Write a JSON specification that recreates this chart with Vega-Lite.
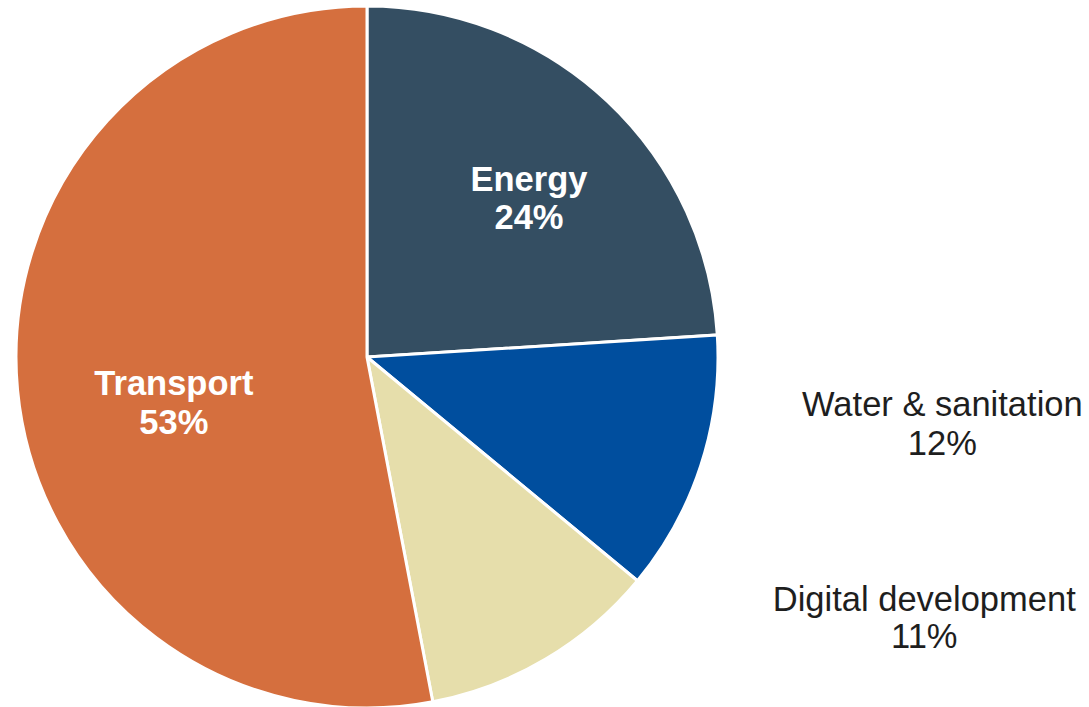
{
  "$schema": "https://vega.github.io/schema/vega-lite/v6.json",
  "width": 734,
  "height": 712,
  "padding": 0,
  "background": "white",
  "config": {"view": {"stroke": null}},
  "data": {
    "values": [
      {"category": "Energy", "share": 24, "rank": 1},
      {"category": "Water & sanitation", "share": 12, "rank": 2},
      {"category": "Digital development", "share": 11, "rank": 3},
      {"category": "Transport", "share": 53, "rank": 4}
    ]
  },
  "transform": [
    {"calculate": "datum.category + '\\n' + datum.share + '%'", "as": "label"}
  ],
  "encoding": {
    "theta": {"field": "share", "type": "quantitative", "stack": true},
    "order": {"field": "rank", "type": "quantitative"}
  },
  "layer": [
    {
      "mark": {"type": "arc", "outerRadius": 351, "stroke": "white", "strokeWidth": 3},
      "encoding": {
        "color": {
          "field": "category",
          "type": "nominal",
          "scale": {
            "domain": ["Energy", "Water & sanitation", "Digital development", "Transport"],
            "range": ["#344E62", "#004E9E", "#E6DEAB", "#D56F3E"]
          },
          "legend": null
        }
      }
    },
    {
      "mark": {"type": "text", "radius": 225, "dx": 8, "dy": -12, "font": "Liberation Sans", "fontSize": 34.5, "fontWeight": "bold", "lineBreak": "\n", "lineHeight": 38, "align": "center", "baseline": "middle", "color": "white"},
      "encoding": {
        "text": {"condition": {"test": "datum.category === 'Energy'", "field": "label"}, "value": ""}
      }
    },
    {
      "mark": {"type": "text", "radius": 195, "dx": 1, "dy": 10, "font": "Liberation Sans", "fontSize": 34.5, "fontWeight": "bold", "lineBreak": "\n", "lineHeight": 39, "align": "center", "baseline": "middle", "color": "white"},
      "encoding": {
        "text": {"condition": {"test": "datum.category === 'Transport'", "field": "label"}, "value": ""}
      }
    },
    {
      "mark": {"type": "text", "radius": 360, "dx": 233, "dy": -62, "font": "Liberation Sans", "fontSize": 34.5, "lineBreak": "\n", "lineHeight": 39, "align": "center", "baseline": "middle", "color": "#1e1e1e"},
      "encoding": {
        "text": {"condition": {"test": "datum.category === 'Water & sanitation'", "field": "label"}, "value": ""}
      }
    },
    {
      "mark": {"type": "text", "radius": 360, "dx": 374, "dy": -66, "font": "Liberation Sans", "fontSize": 34.5, "lineBreak": "\n", "lineHeight": 37, "align": "center", "baseline": "middle", "color": "#1e1e1e"},
      "encoding": {
        "text": {"condition": {"test": "datum.category === 'Digital development'", "field": "label"}, "value": ""}
      }
    }
  ]
}
